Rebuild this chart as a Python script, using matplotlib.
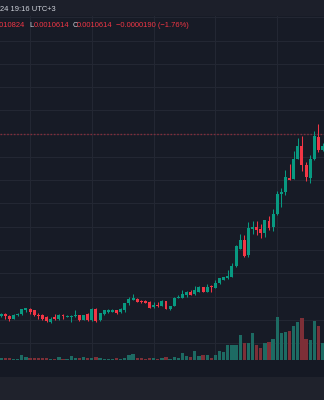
import numpy as np
import matplotlib.pyplot as plt
from matplotlib.patches import Rectangle

# 1-minute candles, 17:38 .. 18:56 (prices in units of 1e-7)
opens = [10457, 10459, 10457, 10455, 10458, 10459, 10462, 10463, 10462, 10458,
         10458, 10456, 10452, 10456, 10455, 10458, 10456, 10456, 10457, 10458,
         10454, 10459, 10454, 10463, 10454, 10459, 10461, 10461, 10462, 10461,
         10462, 10468, 10471, 10472, 10470, 10470, 10469, 10465, 10467, 10466,
         10470, 10463, 10466, 10473, 10473, 10475, 10478, 10476, 10478, 10482,
         10478, 10483, 10481, 10486, 10488, 10490, 10491, 10500, 10515, 10523,
         10510, 10532, 10534, 10532, 10529, 10539, 10534, 10545, 10562, 10564,
         10576, 10575, 10592, 10603, 10587, 10576, 10592, 10611, 10600]
highs = [10460, 10460, 10458, 10459, 10460, 10463, 10464, 10464, 10462, 10460,
         10459, 10457, 10456, 10459, 10459, 10459, 10458, 10458, 10462, 10458,
         10458, 10460, 10464, 10464, 10460, 10462, 10463, 10463, 10462, 10464,
         10468, 10474, 10476, 10473, 10471, 10471, 10470, 10469, 10469, 10471,
         10470, 10466, 10474, 10475, 10480, 10479, 10480, 10483, 10483, 10482,
         10485, 10484, 10488, 10490, 10491, 10497, 10503, 10518, 10528, 10527,
         10538, 10539, 10539, 10536, 10540, 10543, 10549, 10565, 10567, 10583,
         10588, 10599, 10610, 10612, 10590, 10596, 10616, 10622, 10606]
lows = [10456, 10455, 10453, 10455, 10457, 10458, 10461, 10459, 10457, 10455,
        10454, 10452, 10451, 10454, 10454, 10455, 10456, 10452, 10456, 10453,
        10454, 10453, 10453, 10452, 10453, 10458, 10460, 10461, 10459, 10460,
        10461, 10467, 10471, 10469, 10468, 10468, 10464, 10464, 10465, 10466,
        10463, 10462, 10466, 10473, 10473, 10474, 10475, 10475, 10478, 10478,
        10478, 10478, 10481, 10485, 10488, 10489, 10491, 10499, 10515, 10508,
        10508, 10528, 10527, 10524, 10525, 10531, 10530, 10544, 10551, 10561,
        10574, 10575, 10592, 10582, 10573, 10572, 10591, 10598, 10599]
closes = [10459, 10457, 10455, 10458, 10459, 10463, 10464, 10461, 10458, 10457,
          10455, 10453, 10455, 10455, 10458, 10457, 10457, 10457, 10458, 10454,
          10458, 10454, 10463, 10453, 10460, 10462, 10462, 10462, 10460, 10463,
          10468, 10472, 10473, 10469, 10469, 10468, 10464, 10467, 10466, 10470,
          10463, 10466, 10473, 10474, 10476, 10478, 10475, 10480, 10482, 10478,
          10482, 10482, 10486, 10490, 10491, 10492, 10500, 10517, 10523, 10509,
          10533, 10534, 10531, 10529, 10540, 10533, 10545, 10562, 10564, 10577,
          10574, 10592, 10603, 10587, 10577, 10592, 10612, 10600, 10603]
volumes = [1.5, 1.5, 1.5, 1.3, 1.3, 4.7, 3.3, 1.7, 2.0, 1.7,
           2.0, 1.7, 1.3, 1.3, 2.7, 1.3, 1.3, 4.0, 2.3, 1.7,
           3.0, 2.0, 2.0, 3.0, 1.7, 1.3, 1.3, 1.3, 1.7, 1.3,
           1.7, 4.7, 6.0, 2.0, 1.7, 1.3, 1.7, 1.7, 1.3, 2.0,
           3.0, 1.3, 2.7, 2.3, 7.0, 4.3, 2.7, 9.0, 4.0, 4.7,
           5.0, 2.3, 5.0, 9.0, 7.7, 14.7, 14.7, 15.0, 25.0, 16.7,
           17.0, 27.3, 15.0, 12.0, 16.7, 17.7, 20.7, 42.7, 26.7, 28.0,
           29.0, 34.3, 38.3, 41.7, 21.0, 20.0, 39.3, 34.3, 17.0]

start_minute = 17 * 60 + 38
time_labels = ['17:45', '18:00', '18:15', '18:30', '18:45']
last_price = 10614
grid_step = 20

BG = '#171b26'
GRID = '#232733'
UP = '#089981'
DOWN = '#f23645'
UP_VOL = '#1d6b63'
DOWN_VOL = '#7d2f37'
TEXT = '#d1d4dc'

fig = plt.figure(figsize=(3.24, 4.0), dpi=100)
fig.patch.set_facecolor('#1f222c')
plt.rcParams['font.family'] = ['Liberation Sans', 'DejaVu Sans']

# header strip and time scale strip
fig.patches.append(Rectangle((0, 0.96), 1, 0.04, transform=fig.transFigure,
                             facecolor='#1c1f2a', edgecolor='none', zorder=0))
fig.patches.append(Rectangle((0, 0.0575), 1, 0.0425, transform=fig.transFigure,
                             facecolor='#151924', edgecolor='none', zorder=0))

ax = fig.add_axes([0, 0.10, 1, 0.86])
ax.set_facecolor(BG)
for s in ax.spines.values():
    s.set_visible(False)

o = np.array(opens) * 1e-7
h = np.array(highs) * 1e-7
l = np.array(lows) * 1e-7
c = np.array(closes) * 1e-7
x = np.arange(len(opens))
up = c >= o
colors = np.where(up, UP, DOWN)

px = 0.86e-7  # one pixel in price units
body_low = np.minimum(o, c)
body_h = np.maximum(np.abs(c - o), px)
ax.vlines(x, l, h, colors=colors, linewidth=0.75, zorder=3)
ax.bar(x, body_h, bottom=body_low, width=0.72, color=colors, linewidth=0, zorder=4)

# last price line
ax.axhline(last_price * 1e-7, color=DOWN, alpha=0.45, linewidth=1.0,
           linestyle=(0, (1.2, 1.2)), zorder=2)

ax.set_xlim(-0.29, 78.35)
ax.set_ylim(10419.4e-7, 10715.2e-7)
ticks = np.arange(last_price - 9 * grid_step, last_price + 6 * grid_step, grid_step) * 1e-7
ax.set_yticks(ticks)
ax.tick_params(axis='y', length=0, labelleft=False)

tick_pos = [int(t[:2]) * 60 + int(t[3:]) - start_minute for t in time_labels]
ax.set_xticks(tick_pos)
ax.set_xticklabels(time_labels)
ax.tick_params(axis='x', length=0, pad=4.2, labelsize=5.6, labelcolor='#a9acb4')
for lab in ax.get_xticklabels():
    if lab.get_text().endswith(':00'):
        lab.set_fontweight('bold')
        lab.set_color('#c8cbd2')
ax.grid(True, color=GRID, linewidth=0.8)
ax.set_axisbelow(True)

# volume pane on the same time axis
axv = ax.twinx()
axv.set_ylim(0, max(volumes) * 8.05)
axv.bar(x, volumes, width=0.8, color=np.where(up, UP_VOL, DOWN_VOL), linewidth=0)
axv.set_yticks([])
for s in axv.spines.values():
    s.set_visible(False)

# header and OHLC legend
fig.text(0.0, 1 - 9.5 / 400, '24 19:16 UTC+3', color=TEXT, fontsize=5.4,
         va='center', ha='left')
ly = 1 - 25.5 / 400
fig.text(24.5 / 324, ly, '0010824', color=DOWN, fontsize=5.4, va='center', ha='right')
fig.text(29.3 / 324, ly, 'L', color=TEXT, fontsize=5.4, va='center')
fig.text(33.3 / 324, ly, '0.0010614', color=DOWN, fontsize=5.4, va='center')
fig.text(72.7 / 324, ly, 'C', color=TEXT, fontsize=5.4, va='center')
fig.text(76.7 / 324, ly, '0.0010614', color=DOWN, fontsize=5.4, va='center')
fig.text(116 / 324, ly, '\u22120.0000190 (\u22121.76%)', color=DOWN, fontsize=5.4, va='center')

fig.savefig('out.png', dpi=100, facecolor=fig.get_facecolor())
